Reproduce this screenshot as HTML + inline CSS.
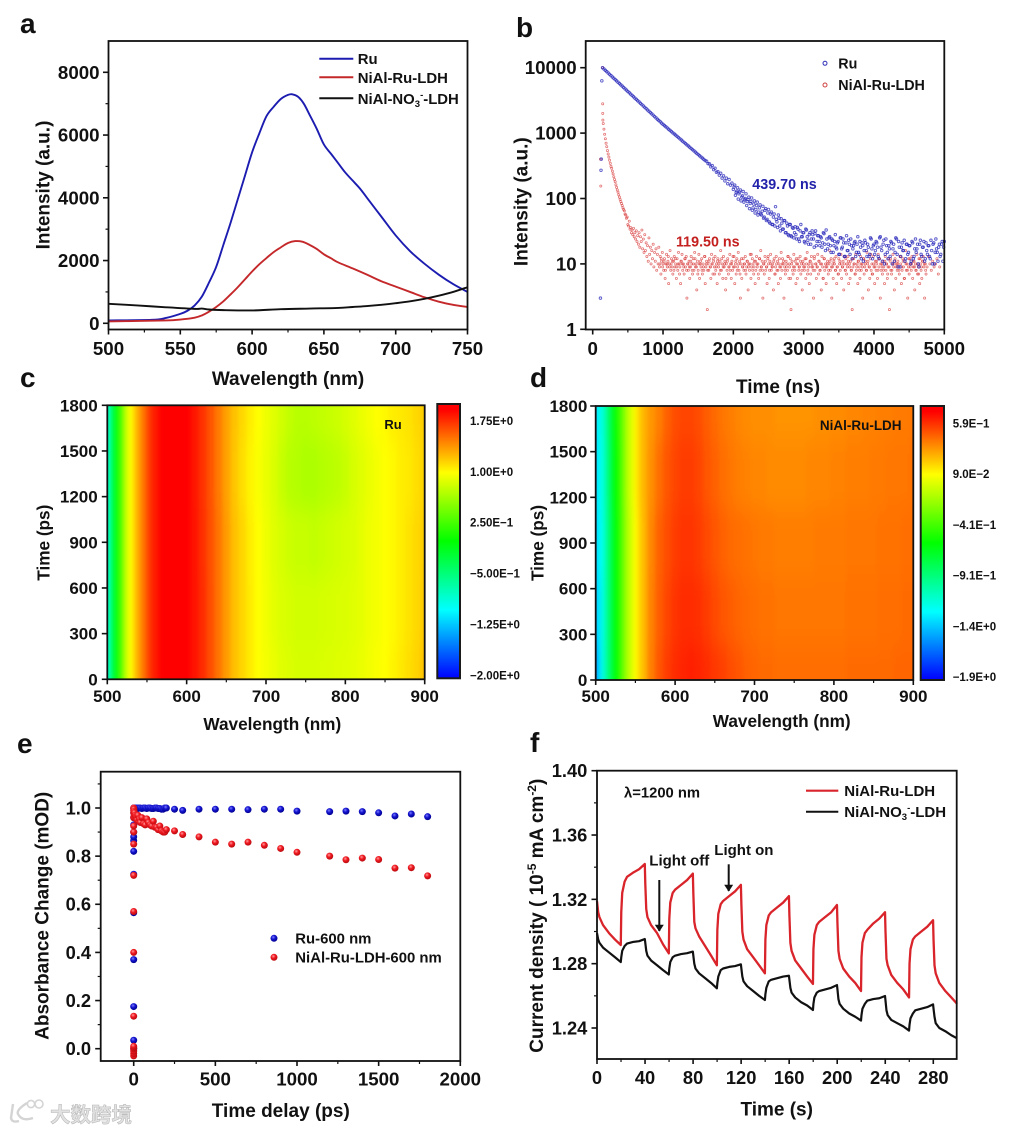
<!DOCTYPE html>
<html lang="en">
<head>
<meta charset="utf-8">
<title>Photophysical characterisation panels</title>
<style>
html,body{margin:0;padding:0;background:#fff}
svg{display:block;filter:blur(.35px)}
text{font-family:"Liberation Sans","Noto Sans CJK SC",sans-serif;font-weight:700;fill:#111}
</style>
</head>
<body>
<svg id="figure" xmlns="http://www.w3.org/2000/svg" width="1015" height="1131" viewBox="0 0 1015 1131">
<defs>
<radialGradient id="sphereBlue" cx="40%" cy="35%" r="65%"><stop offset="0" stop-color="#7c7cff"/><stop offset=".45" stop-color="#1414d0"/><stop offset="1" stop-color="#000090"/></radialGradient>
<radialGradient id="sphereRed" cx="40%" cy="35%" r="65%"><stop offset="0" stop-color="#ff9a9a"/><stop offset=".45" stop-color="#f01820"/><stop offset="1" stop-color="#b80c10"/></radialGradient>
<filter id="heatSmooth" filterUnits="userSpaceOnUse" x="0" y="300" width="1015" height="480" color-interpolation-filters="sRGB"><feGaussianBlur stdDeviation="2.2 12"/></filter>
<clipPath id="clipC"><rect x="107.3" y="405.3" width="317.4" height="274"/></clipPath>
<clipPath id="clipD"><rect x="595.7" y="406" width="317.6" height="274"/></clipPath>
<linearGradient id="barGradient" x1="0" y1="1" x2="0" y2="0"><stop offset="0" stop-color="#0000ff"/><stop offset=".25" stop-color="#00ffff"/><stop offset=".5" stop-color="#00ff00"/><stop offset=".75" stop-color="#ffff00"/><stop offset=".98" stop-color="#ff0000"/><stop offset="1" stop-color="#ff0000"/></linearGradient>
<marker id="arrowHead" viewBox="0 0 10 10" refX="9" refY="5" markerWidth="7" markerHeight="9" markerUnits="userSpaceOnUse" orient="auto" preserveAspectRatio="none"><path d="M0 0L10 5L0 10z" fill="#111"/></marker>
</defs>
<rect width="1015" height="1131" fill="#fff"/>

<text x="20" y="33" font-size="28">a</text>
<text x="516" y="37" font-size="28">b</text>
<text x="20" y="387" font-size="28">c</text>
<text x="530" y="387" font-size="28">d</text>
<text x="17" y="753" font-size="28">e</text>
<text x="530" y="752" font-size="28">f</text>

<g id="panelA">
<text x="288" y="385" font-size="19" text-anchor="middle">Wavelength (nm)</text>
<text transform="translate(49.5 185) rotate(-90)" font-size="19" text-anchor="middle">Intensity (a.u.)</text>
<g>
<line x1="319.3" x2="353.3" y1="58.7" y2="58.7" stroke="#1c1cb0" stroke-width="2"/>
<text x="357.7" y="64" font-size="14.9">Ru</text>
<line x1="319.3" x2="353.3" y1="77.3" y2="77.3" stroke="#c4282a" stroke-width="2"/>
<text x="357.7" y="83" font-size="14.9">NiAl-Ru-LDH</text>
<line x1="319.3" x2="353.3" y1="98.3" y2="98.3" stroke="#111" stroke-width="2"/>
<text x="357.7" y="104" font-size="14.9">NiAl-NO<tspan font-size="9.5" dy="3">3</tspan><tspan font-size="9.5" dy="-9">-</tspan><tspan dy="6">-LDH</tspan></text>
</g>
</g>

<g id="panelB">
<text x="778" y="393" font-size="19" text-anchor="middle">Time (ns)</text>
<text transform="translate(527.7 201.7) rotate(-90)" font-size="19" text-anchor="middle">Intensity (a.u.)</text>
<g>
<circle cx="825" cy="63.3" r="2" fill="none" stroke="#3030b8" stroke-width="1"/>
<text x="838.3" y="68.5" font-size="14.3">Ru</text>
<circle cx="825" cy="85" r="2" fill="none" stroke="#d04040" stroke-width="1"/>
<text x="838.3" y="90" font-size="14.3">NiAl-Ru-LDH</text>
</g>
</g>

<g id="panelC">
<text x="272.3" y="730" font-size="17.2" text-anchor="middle">Wavelength (nm)</text>
<text transform="translate(49.5 542.7) rotate(-90)" font-size="17.2" text-anchor="middle">Time (ps)</text>
</g>

<g id="panelD">
<text x="781.7" y="727" font-size="17.2" text-anchor="middle">Wavelength (nm)</text>
<text transform="translate(543.3 543) rotate(-90)" font-size="17.2" text-anchor="middle">Time (ps)</text>
</g>

<g id="panelE">
<text x="280.8" y="1117" font-size="19" text-anchor="middle">Time delay (ps)</text>
<text transform="translate(48.3 915.8) rotate(-90)" font-size="19" text-anchor="middle">Absorbance Change (mOD)</text>
</g>

<g id="panelF">
<text x="776.7" y="1115.7" font-size="19" text-anchor="middle">Time (s)</text>
<text transform="translate(543 915.7) rotate(-90)" font-size="19" text-anchor="middle">Current density ( 10<tspan font-size="12" dy="-7">-5</tspan><tspan dy="7"> mA cm</tspan><tspan font-size="12" dy="-7">-2</tspan><tspan dy="7">)</tspan></text>
</g>

<g>
<path d="M13 1104L11 1118Q12 1123 19 1121M27 1103Q16 1110 18 1114Q22 1122 33 1118" fill="none" stroke="#d4d4d4" stroke-width="2.4"/>
<circle cx="31" cy="1104" r="3.6" fill="none" stroke="#d4d4d4" stroke-width="1.6"/>
<circle cx="39" cy="1104" r="4" fill="none" stroke="#d4d4d4" stroke-width="1.6"/>
<text x="50" y="1122" font-size="20.5" style="fill:#e2e2e2;stroke:#b4b4b4;stroke-width:.5;font-family:'Liberation Sans','Noto Sans CJK SC',sans-serif">大数跨境</text>
</g>
</svg>

<script>
/* ---------- Panel a: emission spectra ---------- */
const aRuWavelength=[500,530,540,550,555,560,565,570,575,580,585,590,595,600,605,610,615,620,625,628,632,636,640,645,650,655,660,665,670,675,680,690,700,710,720,730,740,750];
const aRuIntensity=[90,110,170,300,400,570,850,1300,1800,2500,3200,3950,4700,5450,6050,6600,6900,7150,7280,7300,7220,7000,6650,6200,5700,5400,5100,4800,4550,4300,4000,3400,2800,2300,1900,1550,1250,1000];
const aLdhWavelength=[500,540,550,560,565,570,575,580,585,590,595,600,605,610,615,620,625,630,635,640,645,650,655,660,670,680,690,700,710,720,730,740,750];
const aLdhIntensity=[60,90,120,180,250,370,520,700,920,1150,1400,1650,1880,2080,2270,2420,2560,2620,2600,2500,2370,2200,2070,1940,1750,1550,1340,1170,1000,830,690,590,520];
const aNo3Wavelength=[500,520,540,560,565,570,580,600,620,640,660,670,680,690,700,710,720,730,740,750];
const aNo3Intensity=[620,570,510,460,470,440,420,410,450,470,490,520,550,590,640,700,780,880,1000,1150];
const aXTicks=[500,550,600,650,700,750];
const aXMinor=[525,575,625,675,725];
const aYTicks=[0,2000,4000,6000,8000];
const aYMinor=[1000,3000,5000,7000];

/* ---------- Panel b: fluorescence decay ---------- */
const bXTicks=[0,1000,2000,3000,4000,5000];
const bXMinor=[500,1500,2500,3500,4500];
const bYTicks=[1,10,100,1000,10000];
const bRuLeadTime=[110,118,122,130];
const bRuLeadCounts=[3,270,400,6300];
const bRuStart=140;
const bRuChannel=20;
const bRuCounts=[10000,9550,9110,8700,8300,7930,7570,7220,6890,6580,6280,6000,5730,5470,5220,4980,4750,4540,4330,4140,3950,3770,3600,3430,3280,3130,2990,2850,2720,2600,2480,2370,2260,2160,2060,1970,1880,1790,1710,1630,1560,1490,1420,1360,1300,1250,1200,1145,1100,1055,1010,970,930,890,855,818,785,752,720,690,660,635,608,582,558,535,512,490,470,450,432,414,396,380,372,341,338,305,318,276,290,252,258,228,243,205,222,186,205,168,195,160,172,138,160,124,146,118,135,105,128,96,118,90,105,84,102,72,92,68,88,62,80,56,76,52,70,48,68,42,62,40,58,75,44,56,38,49,34,46,30,42,28,40,27,36,25,37,24,34,22,40,26,30,21,33,23,28,20,32,24,29,19,27,22,26,18,30,20,33,17,25,19,24,15,22,18,21,14,25,17,24,13,21,16,23,14,19,17,21,13,20,15,22,12,19,16,21,13,18,14,24,12,20,16,21,13,25,18,11,23,14,19,12,17,22,10,20,15,24,9,18,13,21,16,11,20,14,19,10,22,12,17,15,20,9,23,13,18,11,21,14,19,12,16,20,10,24,15,18,13,20,11,22];
const bRuExtraStart=2010;
const bRuExtraCounts=[150,112,130,98,125,92,110,88,100,78,96,70,90,66,82,60,78,56,72,58,64,50,66,46,60,44,58,40,52,38,48,36,50,32,42,34,46,30,38,27,40,26,35,30,28,36,24,32,26,30,22,34,26,20,30,24,28,18,32,22,27,19,25,21,29,16,24,20,26,15,23,19,28,17,22,14,25,18,21,13,27,16,20,24,12,19,22,15,26,14,18,21,11,23,16,20,13,25,17,19,14,22,18,12,26,16,20,10,24,15,19,13,21,17,11,25,14,22,9,18,16,23,12,20,15,19,11,21,13,24,17,10,20,14,18,22,12,16,19,13,23,10,21,15,17,11,20,14,22,18];
const bLdhLeadTime=[110,115,142,142,143,145];
const bLdhLeadCounts=[400,155,10000,2800,2000,1580];
const bLdhStart=150;
const bLdhChannel=10;
const bLdhCounts=[1400,1150,960,820,700,620,540,480,430,385,345,310,290,262,238,215,196,180,162,148,135,125,114,105,97,90,84,78,72,68,65,58,56,50,52,40,38,45,34,36,30,33,28,35,26,30,24,32,22,27,20,30,18,26,22,33,17,24,15,28,16,21,13,19,11,25,14,18,10,16,12,20,9,15,11,17,8,14,10,18,
9,13,7,11,15,10,8,12,6,10,14,9,11,5,10,16,8,12,9,7,
11,13,9,10,6,12,8,15,10,9,5,11,14,8,10,7,12,9,13,3,
10,8,11,6,9,13,10,7,12,8,15,9,10,4,11,8,14,6,10,9,
12,7,10,8,13,5,9,11,2,10,8,12,9,6,14,10,7,11,9,13,
8,10,5,12,9,7,11,16,8,10,6,13,9,11,4,10,8,12,7,9,
14,10,6,11,8,9,13,5,10,7,12,9,15,8,11,3,10,6,9,12,
8,10,13,7,9,11,4,10,8,14,6,9,12,10,7,11,5,8,13,9,
10,6,12,8,16,9,11,3,10,7,13,8,9,5,12,10,6,11,14,8,
9,10,4,12,7,9,13,8,11,5,10,9,6,15,8,12,10,3,9,7,
11,10,8,13,6,9,12,2,10,8,7,14,9,11,5,10,6,12,8,9,
13,7,10,4,11,9,8,12,6,10,15,8,9,5,11,7,13,10,9,3,
12,8,10,6,9,14,7,11,8,10,4,13,9,6,12,8,10,5,9,11,
7,10,16,8,12,3,9,6,11,10,8,13,5,9,7,12,10,8,14,6,
9,11,4,10,8,12,7,9,13,5,10,6,11,8,2,9,12,10,7,14,
8,10,5,11,9,6,13,8,10,3,12,7,9,11,8,15,10,4,9,6,
12,8,10,7,13,9,5,11,8,10,6,14,9,12,3,8,10,7,11,9,
5,13,8,10,6,9,12,2,11,8,7,10,14,9,4,12,6,10,8,11,
9,7,13,10,5,8,12,9,6,11,16,8,10,3,9,7,12,10,8,13,
6,9,11,4,10,8,14,7,9,12,5,10,8,6,11,13,9,3,10,7];
const bLdhExtraStart=955;
const bLdhExtraCounts=[10,12,9,11,8,10,13,9,10,11,8,12,9,10,7,11,10,9,12,8,
10,9,11,8,10,12,9,7,10,11,8,9,13,10,8,11,9,10,12,7,
9,11,10,8,12,9,10,6,11,9,8,10,13,9,11,8,10,7,12,9,
10,8,11,9,10,14,8,9,11,10,7,12,9,8,10,11,9,13,8,10,
9,11,7,10,8,12,9,10,11,8,9,13,10,6,11,9,8,12,10,9,
11,8,10,9,12,7,10,11,9,8,13,10,9,11,8,10,6,12,9,10,
8,11,9,10,12,8,9,7,11,10,9,13,8,10,11,9,8,12,10,7,
9,11,8,10,9,12,10,8,11,9,14,7,10,9,11,8,12,10,9,8,
11,10,7,9,12,8,10,11,9,10,8,13,9,11,6,10,8,12,9,10,
11,9,8,10,7,12,9,11,10,8,9,13,10,8,11,9,10,12,7,9];
const bRuLifetimeLabel="439.70 ns";
const bLdhLifetimeLabel="119.50 ns";

/* ---------- Panels c, d: transient absorption maps ---------- */
const heatWavelengths=[500,505,510,515,520,525,530,535,540,545,550,555,560,570,580,590,600,610,620,630,640,650,660,670,680,690,700,710,720,730,740,750,760,770,780,790,800,810,820,830,840,850,860,870,880,890,900];
const heatTimes=[0,450,900,1350,1800];
const cMatrix=[
[-.9,-.45,-.12,.2,.55,.85,1,1.2,1.34,1.48,1.62,1.75,1.83,1.94,2,2,1.97,1.85,1.76,1.64,1.5,1.36,1.23,1.15,1.07,1,.96,.92,.88,.86,.84,.84,.84,.85,.86,.87,.88,.9,.92,.95,.98,1,1.04,1.08,1.12,1.16,1.22],
[-.9,-.45,-.12,.2,.55,.85,1,1.2,1.34,1.48,1.62,1.75,1.83,1.94,2,2,1.97,1.85,1.76,1.64,1.5,1.36,1.23,1.15,1.07,1,.95,.9,.86,.84,.82,.82,.82,.83,.84,.85,.86,.88,.9,.94,.96,1,1.02,1.06,1.1,1.14,1.2],
[-.9,-.45,-.12,.2,.55,.85,1,1.2,1.34,1.48,1.62,1.75,1.83,1.94,2,2,1.97,1.85,1.75,1.63,1.5,1.36,1.23,1.15,1.06,1,.94,.88,.84,.8,.78,.78,.76,.78,.8,.82,.84,.86,.9,.94,.96,1,1.02,1.06,1.1,1.14,1.18],
[-.9,-.45,-.12,.2,.55,.85,1,1.2,1.34,1.48,1.62,1.75,1.83,1.94,2,2,1.96,1.84,1.74,1.62,1.48,1.34,1.21,1.12,1.04,.98,.92,.86,.78,.72,.7,.68,.68,.7,.72,.74,.78,.84,.88,.92,.96,1,1.02,1.06,1.08,1.12,1.16],
[-.9,-.45,-.12,.2,.55,.85,1,1.2,1.34,1.48,1.62,1.75,1.83,1.94,2,2,1.96,1.84,1.74,1.62,1.48,1.34,1.22,1.14,1.06,1,.94,.88,.82,.76,.72,.72,.74,.76,.78,.8,.84,.88,.92,.96,1,1.02,1.06,1.08,1.1,1.14,1.18]];
const dMatrix=[
[-1.55,-1.32,-1.15,-.95,-.78,-.6,-.45,-.28,-.12,-.02,.09,.18,.26,.4,.5,.56,.6,.62,.63,.62,.6,.57,.55,.52,.5,.47,.46,.45,.45,.44,.44,.44,.44,.44,.44,.44,.44,.44,.45,.45,.45,.45,.45,.45,.46,.46,.46],
[-1.42,-1.3,-1.15,-.95,-.78,-.6,-.45,-.28,-.12,-.02,.09,.18,.26,.39,.48,.54,.58,.6,.6,.59,.56,.53,.5,.48,.46,.45,.44,.43,.43,.42,.42,.42,.42,.42,.42,.42,.42,.42,.43,.43,.43,.43,.44,.44,.44,.45,.45],
[-1.39,-1.26,-1.15,-.95,-.78,-.6,-.45,-.28,-.12,-.02,.09,.18,.26,.38,.47,.52,.56,.58,.58,.56,.53,.5,.47,.45,.44,.43,.42,.41,.41,.4,.4,.4,.4,.4,.41,.41,.41,.41,.42,.42,.42,.42,.43,.43,.43,.44,.44],
[-1.36,-1.24,-1.14,-.94,-.76,-.58,-.44,-.26,-.1,0,.11,.2,.27,.36,.44,.5,.54,.56,.56,.54,.5,.47,.44,.42,.4,.39,.38,.38,.37,.37,.37,.37,.37,.38,.38,.38,.39,.39,.4,.4,.4,.41,.41,.42,.42,.42,.43],
[-1.34,-1.22,-1.12,-.92,-.74,-.56,-.42,-.26,-.1,0,.11,.2,.27,.34,.4,.47,.52,.54,.54,.52,.48,.45,.42,.4,.38,.37,.36,.36,.36,.35,.35,.35,.35,.35,.36,.36,.37,.37,.38,.38,.39,.39,.4,.4,.41,.41,.42]];
const heatXTicks=[500,600,700,800,900];
const heatXMinor=[550,650,750,850];
const heatYTicks=[0,300,600,900,1200,1500,1800];
const cColorMin=-2;
const cColorMax=2;
const dColorMin=-1.93;
const dColorMax=.76;
const cBarValues=[1.75,1,.25,-.5,-1.25,-2];
const cBarLabels=["1.75E+0","1.00E+0","2.50E\u22121","\u22125.00E\u22121","\u22121.25E+0","\u22122.00E+0"];
const dBarValues=[.59,.09,-.41,-.91,-1.41,-1.91];
const dBarLabels=["5.9E\u22121","9.0E\u22122","\u22124.1E\u22121","\u22129.1E\u22121","\u22121.4E+0","\u22121.9E+0"];

/* ---------- Panel e: kinetics ---------- */
const eRuTime=[0,0,0,0,0,0,0,0,0,0,0,0,0,0,1,1,2,3,4,5,10,20,25,30,40,50,60,70,80,90,100,110,120,130,140,150,160,170,180,190,200,250,300,400,500,600,700,800,900,1000,1200,1300,1400,1500,1600,1700,1800];
const eRuAbsorbance=[0,.035,.175,.37,.565,.725,.82,.865,.88,.9,.93,.96,.98,1,.99,1,1,1,1,1,1,1,.998,1,1,.998,1,1,.998,1,1,.998,.998,1,1,.998,.998,.995,.995,1,1,.995,.99,.995,.995,.995,.993,.995,.995,.987,.985,.987,.985,.98,.967,.975,.964];
const eLdhTime=[0,0,0,0,0,0,0,0,0,0,0,0,0,0,0,0,0,1,2,3,5,8,10,15,20,25,30,35,40,50,60,70,80,90,100,110,120,130,140,150,160,170,180,190,200,250,300,400,500,600,700,800,900,1000,1200,1300,1400,1500,1600,1700,1800];
const eLdhAbsorbance=[-.03,-.02,-.01,0,.005,.01,.135,.4,.57,.72,.85,.9,.925,.96,.98,1,.99,.995,.985,.97,.98,.96,.97,.965,.95,.97,.945,.955,.94,.96,.935,.93,.955,.94,.93,.925,.945,.92,.92,.91,.925,.905,.9,.9,.91,.905,.89,.88,.858,.85,.858,.845,.832,.816,.8,.785,.792,.786,.75,.752,.718];
const eXTicks=[0,500,1000,1500,2000];
const eXMinor=[250,750,1250,1750];
const eYTicks=[0,.2,.4,.6,.8,1];
const eYTickLabels=["0.0","0.2","0.4","0.6","0.8","1.0"];
const eYMinor=[.1,.3,.5,.7,.9,1.1];
const eLegendRu="Ru-600 nm";
const eLegendLdh="NiAl-Ru-LDH-600 nm";

/* ---------- Panel f: photocurrent ---------- */
const fTime=[0,1,2,5,10,15,19.8,
20.2,21,23,25,30,35,39.8,40.2,41,42,45,50,55,59.8,
60.2,61,63,65,70,75,79.8,80.2,81,82,85,90,95,99.8,
100.2,101,103,105,110,115,119.8,120.2,121,122,125,130,135,139.8,
140.2,141,143,145,150,155,159.8,160.2,161,162,165,170,175,179.8,
180.2,181,183,185,190,195,199.8,200.2,201,202,205,210,215,219.8,
220.2,221,223,225,230,235,239.8,240.2,241,242,245,250,255,259.8,
260.2,261,263,265,270,275,279.8,280.2,281,282,285,290,295,299.8];
const fLdhCurrent=[1.319,1.312,1.309,1.304,1.299,1.295,1.2916,
1.312,1.324,1.331,1.334,1.3366,1.3387,1.342,1.33,1.314,1.309,1.304,1.299,1.292,1.2864,
1.308,1.318,1.324,1.326,1.329,1.332,1.336,1.324,1.306,1.302,1.297,1.291,1.285,1.279,
1.301,1.311,1.317,1.319,1.322,1.325,1.329,1.317,1.3,1.295,1.289,1.284,1.279,1.274,
1.295,1.304,1.31,1.312,1.315,1.318,1.322,1.31,1.293,1.288,1.282,1.277,1.272,1.2674,
1.289,1.298,1.304,1.306,1.309,1.312,1.3165,1.305,1.288,1.283,1.277,1.272,1.268,1.263,
1.284,1.293,1.299,1.301,1.305,1.308,1.312,1.3,1.283,1.279,1.273,1.268,1.264,1.259,
1.28,1.289,1.295,1.297,1.3,1.303,1.307,1.295,1.279,1.274,1.268,1.263,1.259,1.255];
const fNo3Current=[1.299,1.295,1.293,1.29,1.287,1.284,1.281,
1.284,1.288,1.291,1.2925,1.2935,1.294,1.2953,1.293,1.288,1.285,1.282,1.279,1.276,1.2733,
1.277,1.281,1.284,1.285,1.286,1.2865,1.2875,1.285,1.28,1.277,1.274,1.271,1.268,1.2647,
1.268,1.272,1.276,1.277,1.278,1.2785,1.2796,1.277,1.272,1.269,1.266,1.263,1.26,1.2574,
1.261,1.265,1.269,1.27,1.271,1.272,1.2725,1.27,1.265,1.262,1.259,1.256,1.254,1.2512,
1.255,1.259,1.262,1.263,1.264,1.265,1.2667,1.264,1.258,1.255,1.252,1.249,1.247,1.2446,
1.248,1.252,1.255,1.257,1.258,1.2585,1.2599,1.257,1.251,1.248,1.245,1.243,1.241,1.2384,
1.242,1.246,1.249,1.251,1.252,1.253,1.2547,1.252,1.247,1.243,1.24,1.238,1.2355,1.2336];
const fXTicks=[0,40,80,120,160,200,240,280];
const fXMinor=[20,60,100,140,180,220,260];
const fYTicks=[1.24,1.28,1.32,1.36,1.4];
const fYTickLabels=["1.24","1.28","1.32","1.36","1.40"];
const fYMinor=[1.26,1.3,1.34,1.38];

/* ---------- Helpers ---------- */
const NS="http://www.w3.org/2000/svg";
const INK="#111";
function linear(d0,d1,r0,r1){return function(v){return r0+(v-d0)*(r1-r0)/(d1-d0);};}
function log10Scale(d0,d1,r0,r1){return function(v){return r0+(Math.log10(v)-Math.log10(d0))*(r1-r0)/(Math.log10(d1)-Math.log10(d0));};}
function make(tag,parent,attrs){
  const e=document.createElementNS(NS,tag);
  for(const k in attrs){e.setAttribute(k,attrs[k]);}
  parent.appendChild(e);
  return e;
}
function drawXAxis(g,scale,majors,minors,axisY,labelY,size,labels){
  majors.forEach(function(v,i){
    const tick=make('line',g,{x1:scale(v),x2:scale(v),y1:axisY,y2:axisY+5,stroke:INK,'stroke-width':1.6});
    
    
    const label=make('text',g,{x:scale(v),y:labelY,'text-anchor':'middle','font-size':size});
    
    
    label.textContent=labels?labels[i]:String(v);
  });
  minors.forEach(function(v){
    const tick=make('line',g,{x1:scale(v),x2:scale(v),y1:axisY,y2:axisY+3,stroke:INK,'stroke-width':1.2});
    
    
  });
}
function drawYAxis(g,scale,majors,minors,axisX,labelX,size,labels){
  majors.forEach(function(v,i){
    const tick=make('line',g,{x1:axisX-5.5,x2:axisX,y1:scale(v),y2:scale(v),stroke:INK,'stroke-width':1.6});
    
    
    const label=make('text',g,{x:labelX,y:scale(v)+size*.35,'text-anchor':'end','font-size':size});
    
    
    label.textContent=labels?labels[i]:String(v);
  });
  minors.forEach(function(v){
    const tick=make('line',g,{x1:axisX-3,x2:axisX,y1:scale(v),y2:scale(v),stroke:INK,'stroke-width':1.2});
    
    
  });
}
function drawFrame(g,x0,x1,y0,y1){
  const frame=make('rect',g,{x:x0,y:y0,width:x1-x0,height:y1-y0,fill:'none',stroke:INK,'stroke-width':1.8});
  
  
}
function pathFrom(xs,ys,sx,sy){
  return xs.map(function(x,i){return (i?'L':'M')+sx(x).toFixed(2)+' '+sy(ys[i]).toFixed(2);}).join('');
}
function smoothPathFrom(xs,ys,sx,sy){
  const px=xs.map(sx), py=ys.map(sy);
  let d='M'+px[0].toFixed(2)+' '+py[0].toFixed(2);
  for(let i=0;i<px.length-1;i++){
    const a=Math.max(i-1,0), b=Math.min(i+2,px.length-1);
    const c1x=px[i]+(px[i+1]-px[a])/6, c1y=py[i]+(py[i+1]-py[a])/6;
    const c2x=px[i+1]-(px[b]-px[i])/6, c2y=py[i+1]-(py[b]-py[i])/6;
    d+='C'+c1x.toFixed(2)+' '+c1y.toFixed(2)+' '+c2x.toFixed(2)+' '+c2y.toFixed(2)+' '+px[i+1].toFixed(2)+' '+py[i+1].toFixed(2);
  }
  return d;
}
function rainbow(t){
  t=Math.max(0,Math.min(1,t));
  const stops=[[0,0,0,255],[.25,0,255,255],[.5,0,255,0],[.75,255,255,0],[.98,255,0,0],[1,255,0,0]];
  for(let i=1;i<stops.length;i++){
    if(t<=stops[i][0]){
      const a=stops[i-1],b=stops[i],f=(t-a[0])/(b[0]-a[0]);
      return 'rgb('+Math.round(a[1]+(b[1]-a[1])*f)+','+Math.round(a[2]+(b[2]-a[2])*f)+','+Math.round(a[3]+(b[3]-a[3])*f)+')';
    }
  }
  return 'rgb(255,0,0)';
}

/* ---------- Panel a ---------- */
(function(){
  const g=document.getElementById('panelA');
  const x=linear(500,750,108.5,467.5), y=linear(0,8000,323.3,72.3);
  [[aRuWavelength,aRuIntensity,'#1c1cb0','ru-spectrum-line'],[aLdhWavelength,aLdhIntensity,'#c4282a','nial-ru-ldh-spectrum-line'],[aNo3Wavelength,aNo3Intensity,'#111','nial-no3-ldh-spectrum-line']].forEach(function(s){
    const line=make('path',g,{d:smoothPathFrom(s[0],s[1],x,y),fill:'none',stroke:s[2],'stroke-width':1.9,'stroke-linejoin':'round'});
    
    
  });
  drawXAxis(g,x,aXTicks,aXMinor,329.5,355,18.7);
  drawYAxis(g,y,aYTicks,aYMinor,108.5,99.5,18.7);
  drawFrame(g,108.5,467.5,41,329.5);
})();

/* ---------- Panel b ---------- */
(function(){
  const g=document.getElementById('panelB');
  const x=linear(0,5000,592.7,944.3), y=log10Scale(1,10000,329.3,67.7);
  function dots(times,counts,color,name,radius,width){
    times.forEach(function(t,i){
      if(x(t)>944.3){return;}
      const dot=make('circle',g,{cx:x(t).toFixed(2),cy:y(counts[i]).toFixed(2),r:radius,fill:'none',stroke:color,'stroke-width':width,opacity:.72});
      
      
    });
  }
  const ldhTimes=bLdhLeadTime.concat(bLdhCounts.map(function(c,i){return bLdhStart+i*bLdhChannel;})).concat(bLdhExtraCounts.map(function(c,i){return bLdhExtraStart+i*2*bLdhChannel;}));
  const ldhCounts=bLdhLeadCounts.concat(bLdhCounts).concat(bLdhExtraCounts);
  dots(ldhTimes,ldhCounts,'#d83a3a','nial-ru-ldh-decay-point',1.05,.75);
  const ruTimes=bRuLeadTime.concat(bRuCounts.map(function(c,i){return bRuStart+i*bRuChannel;})).concat(bRuExtraCounts.map(function(c,i){return bRuExtraStart+i*bRuChannel;}));
  const ruCounts=bRuLeadCounts.concat(bRuCounts).concat(bRuExtraCounts);
  dots(ruTimes,ruCounts,'#2020b8','ru-decay-point',1.25,.95);
  const ruText=make('text',g,{x:752.3,y:189,'font-size':14.3,style:'fill:#2222aa'});
  
  
  ruText.textContent=bRuLifetimeLabel;
  const ldhText=make('text',g,{x:676,y:246.7,'font-size':14.3,style:'fill:#c42020'});
  
  
  ldhText.textContent=bLdhLifetimeLabel;
  drawXAxis(g,x,bXTicks,bXMinor,329.5,355,18.7);
  drawYAxis(g,y,bYTicks,[],585.7,576.7,18.7);
  drawFrame(g,585.7,944.3,41,329.5);
})();

/* ---------- Panels c, d ---------- */
function drawHeat(gid,matrix,cMin,cMax,x0,x1,y0,y1,clipId,barX0,barX1,barY0,barY1,barVals,barLabels,barLabelX,barScale,labelX,xLabelY,tagText,tagX,tagY,tagSize){
  const g=document.getElementById(gid);
  const x=linear(500,900,x0,x1), y=linear(0,1800,y1,y0);
  const clip=make('g',g,{'clip-path':'url(#'+clipId+')'});
  
  
  const blur=make('g',clip,{filter:'url(#heatSmooth)'});
  
  
  matrix.forEach(function(row,r){
    const top=r===heatTimes.length-1?y0-40:y((heatTimes[r]+heatTimes[r+1])/2);
    const bottom=r===0?y1+40:y((heatTimes[r]+heatTimes[r-1])/2);
    row.forEach(function(v,c){
      const left=c===0?x0-14:x((heatWavelengths[c]+heatWavelengths[c-1])/2);
      const right=c===heatWavelengths.length-1?x1+14:x((heatWavelengths[c]+heatWavelengths[c+1])/2);
      const cell=make('rect',blur,{x:left.toFixed(2),y:top.toFixed(2),width:(right-left+.6).toFixed(2),height:(bottom-top+.6).toFixed(2),fill:rainbow((v-cMin)/(cMax-cMin))});
      
      
    });
  });
  drawXAxis(g,x,heatXTicks,heatXMinor,y1,xLabelY,17);
  drawYAxis(g,y,heatYTicks,[],x0,labelX,17);
  drawFrame(g,x0,x1,y0,y1);
  const tag=make('text',g,{x:tagX,y:tagY,'text-anchor':'middle','font-size':tagSize});
  
  
  tag.textContent=tagText;
  const bar=make('rect',g,{x:barX0,y:barY0,width:barX1-barX0,height:barY1-barY0,fill:'url(#barGradient)',stroke:'#1a1a1a','stroke-width':2});
  
  
  barVals.forEach(function(v,i){
    const label=make('text',g,{x:barLabelX,y:barScale(v)+4,'font-size':11.5});
    
    
    label.textContent=barLabels[i];
  });
}
drawHeat('panelC',cMatrix,cColorMin,cColorMax,107.3,424.7,405.3,679.3,'clipC',437.3,460,404,678.3,cBarValues,cBarLabels,470,linear(-2,1.75,675.3,421),97.7,702,'Ru',393,429,13);
drawHeat('panelD',dMatrix,dColorMin,dColorMax,595.7,913.3,406,680,'clipD',920.7,944,406,680,dBarValues,dBarLabels,952.7,linear(-1.91,.59,677,423.3),587.3,702,'NiAl-Ru-LDH',860.7,430,13.5);

/* ---------- Panel e ---------- */
(function(){
  const g=document.getElementById('panelE');
  const x=linear(0,2000,133.7,460.3), y=linear(0,1,1048.7,808);
  function spheres(xs,ys,fill,name){
    xs.forEach(function(t,i){
      const dot=make('circle',g,{cx:x(t).toFixed(2),cy:y(ys[i]).toFixed(2),r:3.5,fill:fill});
      
      
    });
  }
  spheres(eRuTime,eRuAbsorbance,'url(#sphereBlue)','ru-kinetics-point');
  spheres(eLdhTime,eLdhAbsorbance,'url(#sphereRed)','nial-ru-ldh-kinetics-point');
  const m1=make('circle',g,{cx:274,cy:938.3,r:3.5,fill:'url(#sphereBlue)'});
  
  
  const t1=make('text',g,{x:295.3,y:943.5,'font-size':14.9});
  
  
  t1.textContent=eLegendRu;
  const m2=make('circle',g,{cx:274,cy:957.3,r:3.5,fill:'url(#sphereRed)'});
  
  
  const t2=make('text',g,{x:295.3,y:962.5,'font-size':14.9});
  
  
  t2.textContent=eLegendLdh;
  drawXAxis(g,x,eXTicks,eXMinor,1061,1085.5,18.7);
  drawYAxis(g,y,eYTicks,eYMinor,100.7,91,18.3,eYTickLabels);
  drawFrame(g,100.7,460.3,771.7,1061);
})();

/* ---------- Panel f ---------- */
(function(){
  const g=document.getElementById('panelF');
  const x=linear(0,280,597,933.3), y=linear(1.24,1.4,1028,770.7);
  const red=make('path',g,{d:pathFrom(fTime,fLdhCurrent,x,y),fill:'none',stroke:'#d8242a','stroke-width':2.3,'stroke-linejoin':'round'});
  
  
  const black=make('path',g,{d:pathFrom(fTime,fNo3Current,x,y),fill:'none',stroke:'#111','stroke-width':2.2,'stroke-linejoin':'round'});
  
  
  drawXAxis(g,x,fXTicks,fXMinor,1059,1084,18.3);
  drawYAxis(g,y,fYTicks,fYMinor,597,587.3,18.3,fYTickLabels);
  drawFrame(g,597,956.7,770.7,1059);
  const lam=make('text',g,{x:624,y:797.7,'font-size':14.8});
  
  
  lam.textContent='\u03BB=1200 nm';
  const off=make('text',g,{x:649.3,y:865.7,'font-size':15});
  
  
  off.textContent='Light off';
  const on=make('text',g,{x:714.3,y:855,'font-size':15});
  
  
  on.textContent='Light on';
  const a1=make('line',g,{x1:659.3,x2:659.3,y1:880,y2:931,stroke:INK,'stroke-width':2,'marker-end':'url(#arrowHead)'});
  
  
  const a2=make('line',g,{x1:728.7,x2:728.7,y1:864.3,y2:891,stroke:INK,'stroke-width':2,'marker-end':'url(#arrowHead)'});
  
  
  const l1=make('line',g,{x1:806,x2:838.3,y1:790.7,y2:790.7,stroke:'#d8242a','stroke-width':2.2});
  
  
  const lt1=make('text',g,{x:844.3,y:796,'font-size':15});
  
  
  lt1.textContent='NiAl-Ru-LDH';
  const l2=make('line',g,{x1:806,x2:838.3,y1:811.7,y2:811.7,stroke:'#111','stroke-width':2});
  
  
  const lt2=make('text',g,{x:844.3,y:817,'font-size':15});
  
  
  lt2.appendChild(document.createTextNode('NiAl-NO'));
  const sub=make('tspan',lt2,{'font-size':9.5,dy:3});
  sub.textContent='3';
  const sup=make('tspan',lt2,{'font-size':9.5,dy:-9});
  sup.textContent='-';
  const rest=make('tspan',lt2,{dy:6});
  rest.textContent='-LDH';
})();
</script>
</body>
</html>
